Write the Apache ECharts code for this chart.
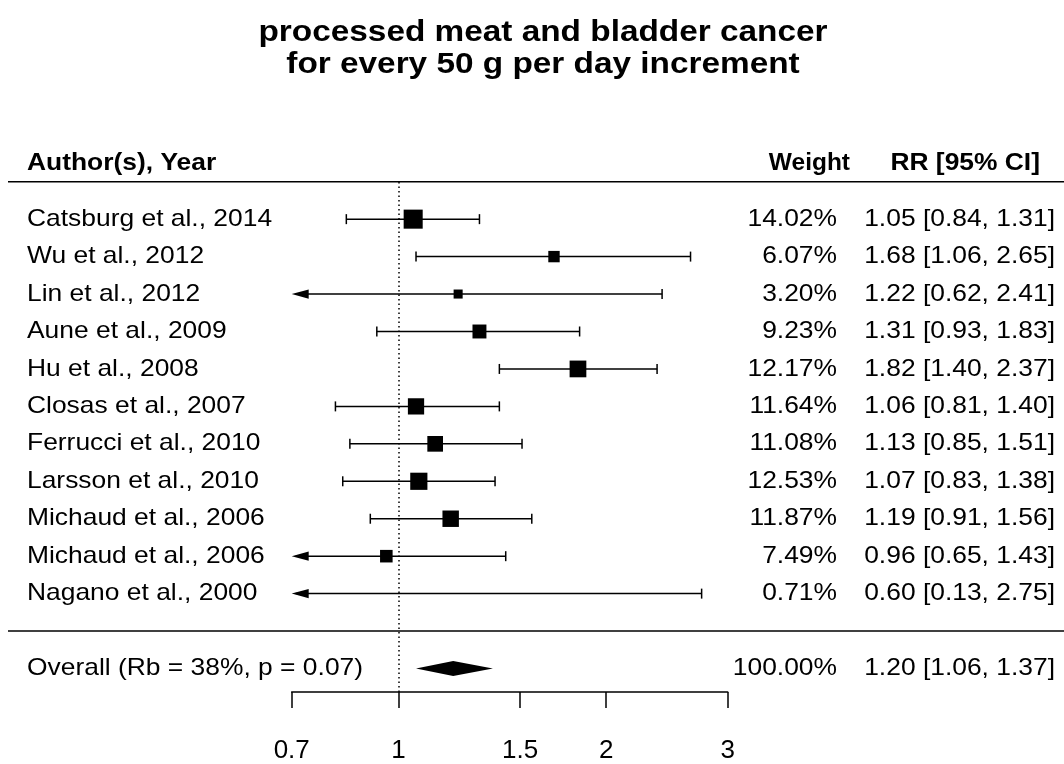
<!DOCTYPE html>
<html>
<head>
<meta charset="utf-8">
<script src="https://cdn.jsdelivr.net/npm/echarts@6/dist/echarts.min.js"></script>
<style>
  html, body { margin: 0; padding: 0; background: #ffffff; }
  #chart { width: 1064px; height: 764px; }
</style>
</head>
<body>
<div id="chart"></div>
<script>
// ---- study data (risk ratios per 50 g/day processed meat) ----
const studies = [
  'Catsburg et al., 2014', 'Wu et al., 2012', 'Lin et al., 2012', 'Aune et al., 2009',
  'Hu et al., 2008', 'Closas et al., 2007', 'Ferrucci et al., 2010', 'Larsson et al., 2010',
  'Michaud et al., 2006', 'Michaud et al., 2006', 'Nagano et al., 2000'
];
const rr     = [1.05, 1.68, 1.22, 1.31, 1.82, 1.06, 1.13, 1.07, 1.19, 0.96, 0.60];
const lower  = [0.84, 1.06, 0.62, 0.93, 1.40, 0.81, 0.85, 0.83, 0.91, 0.65, 0.13];
const upper  = [1.31, 2.65, 2.41, 1.83, 2.37, 1.40, 1.51, 1.38, 1.56, 1.43, 2.75];
const weights = [14.02, 6.07, 3.20, 9.23, 12.17, 11.64, 11.08, 12.53, 11.87, 7.49, 0.71];

// ---- pooled estimate ----
const overallLabel = 'Overall (Rb = 38%, p = 0.07)';
const overallEstimate = [1.20, 1.06, 1.37];   // RR, lower, upper
const overallWeight = 100.00;

// ---- axis ----
const tickValues = [0.7, 1, 1.5, 2, 3];
const tickLabels = ['0.7', '1', '1.5', '2', '3'];
const headers = ['Author(s), Year', 'Weight', 'RR [95% CI]'];
const titleLines = ['processed meat and bladder cancer', 'for every 50 g per day increment'];

const FONT = '"Liberation Sans", Arial, Helvetica, sans-serif';
const TXT_SIZE = 24;
const TXT_SCALE = 1.1;

const xMin = Math.log(tickValues[0]);
const xMax = Math.log(tickValues[tickValues.length - 1]);
const n = studies.length;
const rowOf = i => n - i;          // first study on top
const OVERALL_ROW = -1;

// marker size follows study precision (1/SE from the CI on log scale)
const prec = lower.map((l, i) => 3.92 / (Math.log(upper[i]) - Math.log(l)));
const pMin = Math.min(...prec), pMax = Math.max(...prec);
const psize = prec.map(p => 0.5 + (p - pMin) / (pMax - pMin));
const SQUARE_UNIT = 12.7;

const fmt2 = v => v.toFixed(2);
const ciText = (e, l, u) => `${fmt2(e)} [${fmt2(l)}, ${fmt2(u)}]`;

const studyData = studies.map((s, i) => [
  Math.log(lower[i]), Math.log(upper[i]), Math.log(rr[i]), rowOf(i), psize[i]
]);

const textRows = studies.map((s, i) => ({
  value: [0, rowOf(i)],
  label: s, weight: weights[i].toFixed(2) + '%', ci: ciText(rr[i], lower[i], upper[i]), bold: false
}));
textRows.push({
  value: [0, OVERALL_ROW], label: overallLabel,
  weight: overallWeight.toFixed(2) + '%',
  ci: ciText(overallEstimate[0], overallEstimate[1], overallEstimate[2]), bold: false
});

const LINE_W = 1.5;
const INK = '#000000';

function textEl(str, x, y, align, bold, size, scale) {
  return {
    type: 'text', x: x, y: y, scaleX: scale || TXT_SCALE, scaleY: 1,
    style: {
      text: str, fill: INK, align: align, verticalAlign: 'middle',
      font: (bold ? 'bold ' : '') + (size || TXT_SIZE) + 'px ' + FONT
    }
  };
}

const chart = echarts.init(document.getElementById('chart'), null, { renderer: 'canvas' });

chart.setOption({
  backgroundColor: '#ffffff',
  animation: false,
  graphic: [
    textEl(titleLines[0], 543, 33, 'center', true, 29, 1.15),
    textEl(titleLines[1], 543, 65, 'center', true, 29, 1.15)
  ],
  grid: { left: 291.7, right: 336.3, top: 181.7, bottom: 57.3, containLabel: false },
  xAxis: {
    type: 'value', min: xMin, max: xMax,
    splitLine: { show: false },
    axisLine: { show: true, onZero: false, lineStyle: { color: INK, width: LINE_W } },
    axisTick: {
      show: true, inside: false, length: 16,
      customValues: tickValues.map(Math.log),
      lineStyle: { color: INK, width: LINE_W }
    },
    axisLabel: {
      show: true, margin: 46, color: INK, fontFamily: FONT, fontSize: 26,
      customValues: tickValues.map(Math.log),
      formatter: v => {
        const k = tickValues.findIndex(t => Math.abs(Math.log(t) - v) < 1e-6);
        return k >= 0 ? tickLabels[k] : '';
      }
    }
  },
  yAxis: { type: 'value', min: -1.627, max: 12, show: false, splitLine: { show: false } },
  series: [
    {
      // horizontal rules under the header and above the pooled row
      type: 'custom', silent: true,
      data: [[0, 12], [0, 0]],
      renderItem: (params, api) => {
        const y = api.coord([0, api.value(1)])[1];
        return {
          type: 'line',
          shape: { x1: 8, y1: y, x2: 1064, y2: y },
          style: { stroke: INK, lineWidth: LINE_W }
        };
      },
      markLine: {
        silent: true, symbol: 'none', label: { show: false },
        lineStyle: { color: INK, width: 1.5, type: [1.5, 3] },
        data: [{ xAxis: 0 }]
      }
    },
    {
      // header row
      type: 'custom', silent: true,
      data: [[0, 12.5]],
      renderItem: (params, api) => {
        const y = api.coord([0, api.value(1)])[1];
        return {
          type: 'group',
          children: [
            textEl(headers[0], 27, y, 'left', true),
            textEl(headers[1], 850, y, 'right', true, 24, 1.02),
            textEl(headers[2], 1040, y, 'right', true)
          ]
        };
      }
    },
    {
      // study confidence intervals with square markers
      type: 'custom', silent: true,
      data: studyData,
      renderItem: (params, api) => {
        const lo = api.value(0), hi = api.value(1), est = api.value(2), row = api.value(3), ps = api.value(4);
        const pL = api.coord([Math.max(lo, xMin), row]);
        const pU = api.coord([Math.min(hi, xMax), row]);
        const y = pL[1];
        const children = [];
        const capH = 5, arrowL = 17, arrowH = 4.6;
        let x1 = pL[0], x2 = pU[0];
        if (lo < xMin) {
          children.push({ type: 'polygon', shape: { points: [[x1, y], [x1 + arrowL, y - arrowH], [x1 + arrowL, y + arrowH]] }, style: { fill: INK } });
        } else {
          children.push({ type: 'line', shape: { x1: x1, y1: y - capH, x2: x1, y2: y + capH }, style: { stroke: INK, lineWidth: LINE_W } });
        }
        if (hi > xMax) {
          children.push({ type: 'polygon', shape: { points: [[x2, y], [x2 - arrowL, y - arrowH], [x2 - arrowL, y + arrowH]] }, style: { fill: INK } });
        } else {
          children.push({ type: 'line', shape: { x1: x2, y1: y - capH, x2: x2, y2: y + capH }, style: { stroke: INK, lineWidth: LINE_W } });
        }
        children.push({ type: 'line', shape: { x1: x1 + (lo < xMin ? 4 : 0), y1: y, x2: x2, y2: y }, style: { stroke: INK, lineWidth: LINE_W } });
        if (est >= xMin && est <= xMax) {
          const c = api.coord([est, row]);
          const s = ps * SQUARE_UNIT;
          children.push({ type: 'rect', shape: { x: c[0] - s / 2, y: c[1] - s / 2, width: s, height: s }, style: { fill: INK } });
        }
        return { type: 'group', children: children };
      }
    },
    {
      // pooled estimate diamond
      type: 'custom', silent: true,
      data: [[Math.log(overallEstimate[0]), Math.log(overallEstimate[1]), Math.log(overallEstimate[2]), OVERALL_ROW]],
      renderItem: (params, api) => {
        const row = api.value(3);
        const pE = api.coord([api.value(0), row]);
        const pL = api.coord([api.value(1), row]);
        const pU = api.coord([api.value(2), row]);
        const h = 7.4;
        return {
          type: 'polygon',
          shape: { points: [[pL[0], pE[1]], [pE[0], pE[1] - h], [pU[0], pE[1]], [pE[0], pE[1] + h]] },
          style: { fill: INK }
        };
      }
    },
    {
      // text columns: study, weight, RR [95% CI]
      type: 'custom', silent: true,
      data: textRows,
      renderItem: (params, api) => {
        const d = textRows[params.dataIndex];
        const y = api.coord([0, api.value(1)])[1];
        return {
          type: 'group',
          children: [
            textEl(d.label, 27, y, 'left', d.bold),
            textEl(d.weight, 837, y, 'right', d.bold),
            textEl(d.ci, 1055, y, 'right', d.bold)
          ]
        };
      }
    }
  ]
});
</script>
</body>
</html>
